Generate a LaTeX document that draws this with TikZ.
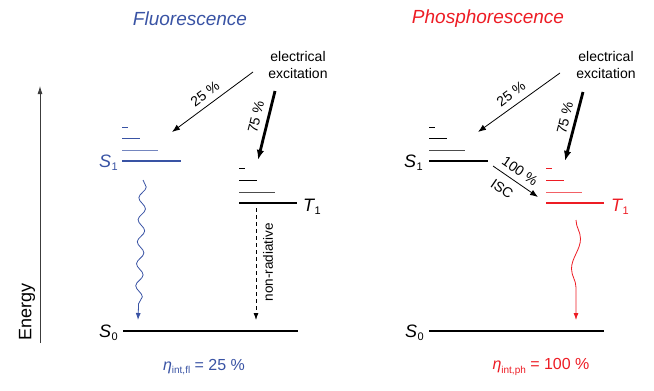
\documentclass[tikz,border=0pt]{standalone}
\usepackage{fontspec}
\setmainfont{Liberation Sans}
\usetikzlibrary{arrows.meta,decorations.pathmorphing}
\definecolor{flblue}{RGB}{57,83,164}
\definecolor{phred}{RGB}{237,28,36}
\definecolor{axisgray}{RGB}{60,60,60}
\newcommand{\lvl}[2]{{\itshape #1}\kern0.5pt\raisebox{-0.35ex}{\fontsize{11}{11}\selectfont #2}}
\newcommand{\etalbl}[1]{{\itshape η}\raisebox{-0.4ex}{\fontsize{10}{10}\selectfont #1}}
\begin{document}
\begin{tikzpicture}[x=1pt,y=-1pt,
  mainlvl/.style={line width=2.2pt},
  sublvl/.style={line width=0.9pt},
  faintlvl/.style={line width=0.9pt, opacity=0.7},
  arr/.style={-{Latex[length=8pt,width=6pt]}, line width=0.8pt},
  thickarr/.style={-{Latex[length=10pt,width=7.5pt]}, line width=2.8pt},
  lbl/.style={font=\fontsize{14}{16}\selectfont, inner sep=0pt},
  lvllbl/.style={font=\fontsize{18}{20}\selectfont, inner sep=0pt},
  ttl/.style={font=\fontsize{19}{22}\selectfont\itshape, inner sep=0pt},
  exc/.style={font=\fontsize{14}{16.5}\selectfont, align=center, inner sep=0pt},
  eff/.style={font=\fontsize{16}{18}\selectfont, inner sep=0pt},
  wavy/.style={decorate, decoration={snake, amplitude=3.5pt, segment length=22pt, post length=7pt}},
]
\useasboundingbox (0,0) rectangle (654,391);

% titles
\node[ttl, text=flblue] (titleF) at (190,19) {Fluorescence};
\node[ttl, text=phred] (titleP) at (488,19) {Phosphorescence};

% energy axis
\coordinate (axbot) at (40,343);
\coordinate (axtop) at (40,86);
\draw[-{Latex[length=8pt,width=5pt]}, line width=0.8pt, axisgray] (axbot) -- (axtop);
\node[font=\fontsize{18}{20}\selectfont, rotate=90, inner sep=0pt] (energy) at (27,312) {Energy};

% ================= LEFT PANEL =================
% S1 levels (blue)
\draw[flblue, mainlvl] (122,161) coordinate (S1La) -- (181,161) coordinate (S1Lb);
\draw[flblue, faintlvl] (122,150) -- (158,150);
\draw[flblue, sublvl] (122,138) -- (140,138);
\draw[flblue, sublvl] (122,127) -- (128,127);
\node[lvllbl, text=flblue, anchor=east] (S1Llbl) at (118,163) {\lvl{S}{1}};

% T1 levels (black)
\draw[mainlvl] (239,203) coordinate (T1La) -- (297,203) coordinate (T1Lb);
\draw[faintlvl] (239,192) -- (275,192);
\draw[sublvl] (239,180) -- (257,180);
\draw[sublvl] (239,168) -- (245,168);
\node[lvllbl, anchor=west] (T1Llbl) at (303,207) {\lvl{T}{1}};

% S0
\draw[mainlvl] (123,331) coordinate (S0La) -- (298,331) coordinate (S0Lb);
\node[lvllbl, anchor=east] (S0Llbl) at (118,333) {\lvl{S}{0}};

% excitation
\node[exc] (excL) at (298,65) {electrical\\excitation};
\coordinate (eL25s) at (253,72);
\coordinate (eL25e) at (172,132);
\coordinate (eL75s) at (275,91);
\coordinate (eL75e) at (258,160);
\draw[arr] (eL25s) -- (eL25e);
\draw[thickarr] (eL75s) -- (eL75e);
\node[lbl, rotate=36.5] (p25L) at (205,94) {25 \%};
\node[lbl, rotate=76] (p75L) at (256,117) {75 \%};

% fluorescence wavy
\coordinate (flS) at (143,180);
\coordinate (flE) at (138,320);
\draw[flblue, line width=0.8pt, wavy, -{Latex[length=7pt,width=5pt]}] (flS) -- (flE);

% non-radiative
\coordinate (nrS) at (256,208);
\coordinate (nrE) at (256,320);
\draw[dash pattern=on 4pt off 3pt, line width=0.8pt, -{Latex[length=7pt,width=5pt]}] (nrS) -- (nrE);
\node[font=\fontsize{13.5}{15}\selectfont, rotate=90, inner sep=0pt] (nrlbl) at (268,262) {non-radiative};

% efficiency
\node[eff, text=flblue] (effL) at (204,367) {\etalbl{int,fl} = 25 \%};

% ================= RIGHT PANEL =================
% S1 levels (black)
\draw[mainlvl] (429,161) coordinate (S1Ra) -- (488,161) coordinate (S1Rb);
\draw[faintlvl] (429,150) -- (465,150);
\draw[sublvl] (429,138) -- (447,138);
\draw[sublvl] (429,127) -- (435,127);
\node[lvllbl, anchor=east] (S1Rlbl) at (423,163) {\lvl{S}{1}};

% T1 levels (red)
\draw[phred, mainlvl] (546,203) coordinate (T1Ra) -- (604,203) coordinate (T1Rb);
\draw[phred, faintlvl] (546,192) -- (582,192);
\draw[phred, sublvl] (546,180) -- (564,180);
\draw[phred, sublvl] (546,168) -- (552,168);
\node[lvllbl, text=phred, anchor=west] (T1Rlbl) at (611,207) {\lvl{T}{1}};

% S0
\draw[mainlvl] (429,331) coordinate (S0Ra) -- (604,331) coordinate (S0Rb);
\node[lvllbl, anchor=east] (S0Rlbl) at (424,333) {\lvl{S}{0}};

% excitation
\node[exc] (excR) at (606,65) {electrical\\excitation};
\coordinate (eR25s) at (560,73);
\coordinate (eR25e) at (478,132);
\coordinate (eR75s) at (583,92);
\coordinate (eR75e) at (565,161);
\draw[arr] (eR25s) -- (eR25e);
\draw[thickarr] (eR75s) -- (eR75e);
\node[lbl, rotate=36.5] (p25R) at (511,94) {25 \%};
\node[lbl, rotate=76] (p75R) at (565,118) {75 \%};

% ISC
\coordinate (iscS) at (493,166);
\coordinate (iscE) at (538,197);
\draw[arr] (iscS) -- (iscE);
\node[lbl, rotate=-34.5] (p100) at (520,171) {100 \%};
\node[lbl, rotate=-34.5] (isc) at (502,189) {ISC};

% phosphorescence wavy
\coordinate (phS) at (576,220);
\coordinate (phE) at (576,320);
\draw[phred, line width=0.8pt, decorate, decoration={snake, amplitude=4.5pt, segment length=60pt, post length=8pt}, -{Latex[length=7pt,width=5pt]}] (phS) -- (phE);

% efficiency
\node[eff, text=phred] (effR) at (541,367) {\etalbl{int,ph} = 100 \%};
\end{tikzpicture}
\end{document}
